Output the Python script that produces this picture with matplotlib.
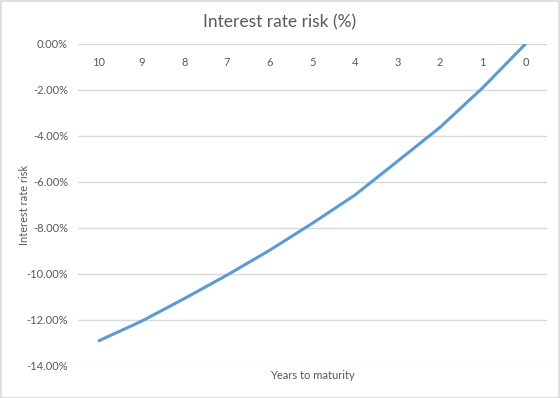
import matplotlib
matplotlib.use("Agg")
import matplotlib.pyplot as plt
from matplotlib.ticker import FuncFormatter
from matplotlib.patches import Rectangle
import numpy as np

years = ["10", "9", "8", "7", "6", "5", "4", "3", "2", "1", "0"]
risk_pct = [-12.90, -12.05, -11.07, -10.05, -8.97, -7.80, -6.57, -5.10, -3.62, -1.90, 0.00]
y_ticks = [0, -2, -4, -6, -8, -10, -12, -14]

title = "Interest rate risk (%)"
x_label = "Years to maturity"
y_label = "Interest rate risk"

plt.rcParams['font.family'] = ['Lato', 'DejaVu Sans']
text_color = "#595959"
grid_color = "#D9D9D9"
line_color = "#5B9BD5"

fig = plt.figure(figsize=(5.6, 3.98), dpi=100)
ax_left, ax_right, ax_top, ax_bot = 77.7, 546.7, 44, 366
ax = fig.add_axes([ax_left / 560, 1 - ax_bot / 398, (ax_right - ax_left) / 560, (ax_bot - ax_top) / 398])

x = np.arange(len(years))
ax.plot(x, risk_pct, color=line_color, linewidth=2.2, solid_capstyle='round',
        solid_joinstyle='round', zorder=3)

ax.set_xlim(-0.5, len(years) - 0.5)
ax.set_ylim(-14, 0)
ax.set_yticks(y_ticks)
ax.yaxis.set_major_formatter(FuncFormatter(lambda v, p: f"{v:.2f}%"))
ax.grid(axis='y', color=grid_color, linewidth=1.0)
ax.set_axisbelow(True)
for s in ax.spines.values():
    s.set_visible(False)

ax.xaxis.set_ticks_position('top')
ax.set_xticks(x)
ax.set_xticklabels(years)
ax.tick_params(axis='x', length=0, pad=-17, labelsize=8, labelcolor=text_color)
ax.tick_params(axis='y', length=0, pad=7, labelsize=8, labelcolor=text_color)

ax.set_title(title, fontsize=12.5, color=text_color, pad=12,
             x=(280 - ax_left) / (ax_right - ax_left))
ax.set_xlabel(x_label, fontsize=8, color=text_color, labelpad=3)
ax.xaxis.set_label_position('bottom')
ax.set_ylabel(y_label, fontsize=8, color=text_color)
ax.yaxis.set_label_coords((30 - ax_left) / (ax_right - ax_left), 0.5)

fig.patches.append(Rectangle((0.001, 0.001), 0.997, 0.997, transform=fig.transFigure,
                             fill=False, edgecolor=grid_color, linewidth=1.2))

fig.savefig("out.png", dpi=100)
